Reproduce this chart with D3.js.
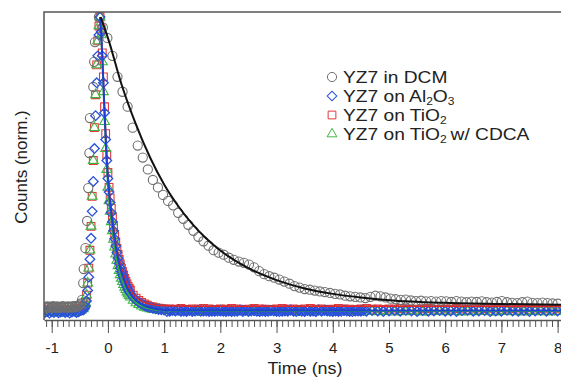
<!DOCTYPE html>
<html>
<head>
<meta charset="utf-8">
<script src="https://cdn.jsdelivr.net/npm/d3@7"></script>
<style>
  body { margin: 0; background: #fff; }
  svg { display: block; font-family: "Liberation Sans", Arial, sans-serif; }
</style>
</head>
<body>
<script>
// ********************************** //
// ** Data
// ********************************** //
const dcmTime = [
  -1.12, -1.1, -1.08, -1.06, -1.04, -1.02, -1.0, -0.98, -0.96, -0.94, -0.92, -0.9, -0.88, -0.86, -0.84, -0.82,
  -0.8, -0.78, -0.76, -0.74, -0.72, -0.7, -0.68, -0.66, -0.64, -0.62, -0.6, -0.58, -0.56, -0.54, -0.52, -0.5, -0.48,
  -0.46, -0.44, -0.43, -0.4, -0.37, -0.35, -0.33, -0.32, -0.26, -0.245, -0.23, -0.16, -0.09,
  -0.01, 0.08, 0.17, 0.26, 0.35, 0.44, 0.53, 0.62, 0.71, 0.8, 0.89, 0.98, 1.07, 1.16, 1.25, 1.34, 1.43, 1.52, 1.61, 1.7,
  1.79, 1.88, 1.97, 2.06, 2.15, 2.24, 2.33, 2.42, 2.51, 2.6, 2.69, 2.78, 2.87, 2.96, 3.05, 3.14, 3.23, 3.32, 3.41, 3.5,
  3.59, 3.68, 3.77, 3.86, 3.95, 4.04, 4.13, 4.22, 4.31, 4.4, 4.49, 4.58, 4.67, 4.76, 4.85, 4.94, 5.03, 5.12, 5.21, 5.3,
  5.39, 5.48, 5.57, 5.66, 5.75, 5.84, 5.93, 6.02, 6.11, 6.2, 6.29, 6.38, 6.47, 6.56, 6.65, 6.74, 6.83, 6.92, 7.01, 7.1,
  7.19, 7.28, 7.37, 7.46, 7.55, 7.64, 7.73, 7.82, 7.91, 8.0
];
const dcmCounts = [
  0.03, 0.028, 0.032, 0.029, 0.031, 0.027, 0.03, 0.033, 0.029, 0.031, 0.028, 0.032, 0.03, 0.027, 0.031, 0.029,
  0.033, 0.03, 0.028, 0.031, 0.029, 0.032, 0.03, 0.028, 0.031, 0.033, 0.029, 0.032, 0.034, 0.031, 0.035, 0.038, 0.042,
  0.054, 0.11, 0.157, 0.227, 0.318, 0.428, 0.545, 0.662, 0.766, 0.85, 0.916, 1.0, 0.965,
  0.93, 0.87, 0.8, 0.75, 0.7, 0.63, 0.57, 0.53, 0.49, 0.455, 0.43, 0.405, 0.385, 0.37, 0.345, 0.325, 0.305, 0.285, 0.265, 0.25,
  0.235, 0.22, 0.212, 0.205, 0.195, 0.188, 0.182, 0.178, 0.172, 0.163, 0.15, 0.14, 0.133, 0.128, 0.122, 0.115, 0.108, 0.1, 0.095, 0.09,
  0.088, 0.085, 0.082, 0.08, 0.077, 0.074, 0.072, 0.068, 0.066, 0.064, 0.062, 0.06, 0.064, 0.068, 0.066, 0.062, 0.058, 0.056, 0.054, 0.055,
  0.052, 0.05, 0.051, 0.049, 0.05, 0.048, 0.05, 0.049, 0.047, 0.05, 0.048, 0.046, 0.048, 0.047, 0.049, 0.046, 0.045, 0.047, 0.05, 0.046,
  0.044, 0.043, 0.046, 0.048, 0.044, 0.043, 0.045, 0.043, 0.042, 0.041
];

// time bins for the TiO2 films (up to 1 ns they are shared with Al2O3)
const fastTime = [
  -1.12, -1.08, -1.04, -1.0, -0.96, -0.92, -0.88, -0.84, -0.8, -0.76, -0.72, -0.68, -0.64, -0.6, -0.56, -0.52, -0.48, -0.44,
  -0.42, -0.4, -0.38, -0.36, -0.34, -0.32, -0.3, -0.28, -0.26, -0.24, -0.22, -0.2, -0.18, -0.16, -0.14,
  -0.12, -0.1, -0.08, -0.06, -0.04, -0.02, 0.0, 0.02, 0.04, 0.06, 0.08, 0.1, 0.12, 0.14, 0.16, 0.18, 0.2, 0.22, 0.24,
  0.26, 0.28, 0.3, 0.32, 0.34, 0.36, 0.38, 0.4,
  0.45, 0.5, 0.55, 0.6, 0.65, 0.7, 0.75, 0.8, 0.85, 0.9, 0.95, 1.0,
  1.1, 1.2, 1.3, 1.4, 1.5, 1.6, 1.7, 1.8, 1.9, 2.0, 2.1, 2.2, 2.3, 2.4, 2.5, 2.6, 2.7, 2.8, 2.9, 3.0,
  3.1, 3.2, 3.3, 3.4, 3.5, 3.6, 3.7, 3.8, 3.9, 4.0, 4.1, 4.2, 4.3, 4.4, 4.5, 4.6, 4.7, 4.8, 4.9, 5.0,
  5.1, 5.2, 5.3, 5.4, 5.5, 5.6, 5.7, 5.8, 5.9, 6.0, 6.1, 6.2, 6.3, 6.4, 6.5, 6.6, 6.7, 6.8, 6.9, 7.0,
  7.1, 7.2, 7.3, 7.4, 7.5, 7.6, 7.7, 7.8, 7.9, 8.0
];
// Al2O3 tail bins after 1 ns (denser, the blue band)
const al2o3TailTime = [
  1.05, 1.1, 1.15, 1.2, 1.25, 1.3, 1.35, 1.4, 1.45, 1.5, 1.55, 1.6, 1.65, 1.7, 1.75, 1.8, 1.85, 1.9, 1.95, 2.0,
  2.05, 2.1, 2.15, 2.2, 2.25, 2.3, 2.35, 2.4, 2.45, 2.5, 2.55, 2.6, 2.65, 2.7, 2.75, 2.8, 2.85, 2.9, 2.95, 3.0,
  3.05, 3.1, 3.15, 3.2, 3.25, 3.3, 3.35, 3.4, 3.45, 3.5, 3.55, 3.6, 3.65, 3.7, 3.75, 3.8, 3.85, 3.9, 3.95, 4.0,
  4.05, 4.1, 4.15, 4.2, 4.25, 4.3, 4.35, 4.4, 4.45, 4.5, 4.55, 4.6, 4.65, 4.7, 4.75, 4.8, 4.85, 4.9, 4.95, 5.0,
  5.05, 5.1, 5.15, 5.2, 5.25, 5.3, 5.35, 5.4, 5.45, 5.5, 5.55, 5.6, 5.65, 5.7, 5.75, 5.8, 5.85, 5.9, 5.95, 6.0,
  6.05, 6.1, 6.15, 6.2, 6.25, 6.3, 6.35, 6.4, 6.45, 6.5, 6.55, 6.6, 6.65, 6.7, 6.75, 6.8, 6.85, 6.9, 6.95, 7.0,
  7.05, 7.1, 7.15, 7.2, 7.25, 7.3, 7.35, 7.4, 7.45, 7.5, 7.55, 7.6, 7.65, 7.7, 7.75, 7.8, 7.85, 7.9, 7.95, 8.0,
  8.05
];
const al2o3Counts = [
  0.012, 0.015, 0.01, 0.014, 0.012, 0.016, 0.011, 0.013, 0.015, 0.012, 0.014, 0.01, 0.013, 0.016, 0.012, 0.014, 0.018, 0.02,
  0.024, 0.032, 0.05, 0.085, 0.13, 0.19, 0.26, 0.35, 0.45, 0.56, 0.67, 0.78, 0.87, 0.94, 1.0,
  0.95, 0.87, 0.78, 0.68, 0.59, 0.52, 0.46, 0.415, 0.38, 0.345, 0.315, 0.285, 0.258, 0.234, 0.212, 0.193, 0.176, 0.161, 0.148,
  0.136, 0.125, 0.114, 0.104, 0.096, 0.088, 0.081, 0.075,
  0.062, 0.053, 0.046, 0.04, 0.035, 0.031, 0.028, 0.026, 0.024, 0.022, 0.021, 0.02
];
const al2o3TailCounts = [
  0.019, 0.018, 0.017, 0.018, 0.016, 0.019, 0.017, 0.018, 0.016, 0.017, 0.018, 0.015, 0.017, 0.019, 0.016, 0.018, 0.017, 0.015, 0.018, 0.017,
  0.016, 0.019, 0.017, 0.018, 0.015, 0.017, 0.016, 0.018, 0.019, 0.017, 0.015, 0.018, 0.016, 0.017, 0.019, 0.016, 0.018, 0.017, 0.015, 0.017,
  0.018, 0.016, 0.019, 0.017, 0.015, 0.018, 0.016, 0.017, 0.018, 0.016, 0.017, 0.015, 0.018, 0.019, 0.016, 0.017, 0.018, 0.015, 0.017, 0.016,
  0.019, 0.017, 0.016, 0.018, 0.015, 0.017, 0.018, 0.016, 0.019, 0.017, 0.015, 0.016, 0.018, 0.017, 0.019, 0.016, 0.017, 0.015, 0.018, 0.016,
  0.017, 0.019, 0.016, 0.018, 0.017, 0.015, 0.016, 0.018, 0.017, 0.019, 0.016, 0.015, 0.017, 0.018, 0.016, 0.017, 0.019, 0.015, 0.018, 0.016,
  0.017, 0.018, 0.016, 0.015, 0.017, 0.019, 0.016, 0.018, 0.017, 0.016, 0.015, 0.018, 0.017, 0.016, 0.019, 0.017, 0.015, 0.018, 0.016, 0.017,
  0.018, 0.016, 0.017, 0.015, 0.019, 0.016, 0.018, 0.017, 0.016, 0.015, 0.017, 0.018, 0.016, 0.019, 0.017, 0.016, 0.015, 0.018, 0.017, 0.016,
  0.018
];
const tio2Counts = [
  0.02, 0.023, 0.019, 0.022, 0.02, 0.024, 0.019, 0.021, 0.023, 0.02, 0.022, 0.019, 0.021, 0.024, 0.02, 0.022, 0.026, 0.03,
  0.035, 0.045, 0.07, 0.11, 0.16, 0.22, 0.3, 0.4, 0.52, 0.63, 0.74, 0.84, 0.92, 0.97, 1.0,
  0.96, 0.88, 0.8, 0.7, 0.61, 0.54, 0.48, 0.43, 0.395, 0.36, 0.33, 0.3, 0.272, 0.248, 0.226, 0.206, 0.189, 0.174, 0.16,
  0.148, 0.137, 0.126, 0.116, 0.107, 0.099, 0.092, 0.086,
  0.07, 0.06, 0.052, 0.045, 0.04, 0.036, 0.032, 0.03, 0.028, 0.026, 0.025, 0.024,
  0.024, 0.023, 0.025, 0.022, 0.024, 0.023, 0.025, 0.024, 0.022, 0.024, 0.023, 0.025, 0.024, 0.022, 0.023, 0.025, 0.024, 0.023, 0.022, 0.024,
  0.025, 0.023, 0.024, 0.022, 0.024, 0.025, 0.023, 0.024, 0.022, 0.023, 0.025, 0.024, 0.023, 0.022, 0.024, 0.025, 0.023, 0.024, 0.022, 0.024,
  0.023, 0.025, 0.024, 0.022, 0.023, 0.024, 0.025, 0.023, 0.022, 0.024, 0.023, 0.025, 0.024, 0.022, 0.024, 0.023, 0.025, 0.024, 0.023, 0.022,
  0.024, 0.025, 0.023, 0.024, 0.022, 0.023, 0.025, 0.024, 0.023, 0.024
];
const cdcaCounts = [
  0.015, 0.012, 0.016, 0.013, 0.011, 0.015, 0.014, 0.012, 0.016, 0.013, 0.011, 0.015, 0.014, 0.012, 0.016, 0.015, 0.02, 0.024,
  0.035, 0.045, 0.07, 0.11, 0.16, 0.22, 0.3, 0.4, 0.52, 0.63, 0.74, 0.84, 0.92, 0.97, 1.0,
  0.94, 0.85, 0.75, 0.65, 0.56, 0.49, 0.43, 0.385, 0.35, 0.315, 0.285, 0.256, 0.23, 0.207, 0.186, 0.168, 0.152, 0.138, 0.126,
  0.115, 0.105, 0.096, 0.088, 0.08, 0.074, 0.068, 0.063,
  0.052, 0.044, 0.038, 0.033, 0.029, 0.026, 0.024, 0.022, 0.021, 0.02, 0.019, 0.018,
  0.016, 0.015, 0.014, 0.016, 0.015, 0.013, 0.015, 0.016, 0.014, 0.015, 0.013, 0.016, 0.015, 0.014, 0.016, 0.015, 0.013, 0.014, 0.016, 0.015,
  0.014, 0.016, 0.015, 0.013, 0.015, 0.014, 0.016, 0.015, 0.014, 0.013, 0.015, 0.016, 0.014, 0.015, 0.013, 0.016, 0.015, 0.014, 0.015, 0.016,
  0.013, 0.015, 0.014, 0.016, 0.015, 0.013, 0.014, 0.016, 0.015, 0.014, 0.016, 0.015, 0.013, 0.015, 0.014, 0.016, 0.015, 0.014, 0.013, 0.015,
  0.016, 0.014, 0.015, 0.013, 0.015, 0.016, 0.014, 0.015, 0.013, 0.015
];

// fitted decays [time (ns), counts]
const dcmFit = [
  [-0.13, 1.0], [0, 0.93], [0.25, 0.77], [0.5, 0.64], [0.75, 0.53], [1, 0.44], [1.25, 0.368], [1.5, 0.308],
  [1.75, 0.259], [2, 0.219], [2.5, 0.16], [3, 0.12], [3.5, 0.092], [4, 0.074], [4.5, 0.062], [5, 0.053],
  [6, 0.044], [7, 0.04], [8.06, 0.038]
];
const al2o3Fit = [
  [-0.14, 1.0], [-0.1, 0.87], [-0.06, 0.68], [-0.02, 0.52], [0.02, 0.415], [0.06, 0.345], [0.1, 0.285],
  [0.16, 0.212], [0.22, 0.161], [0.3, 0.114], [0.4, 0.075], [0.5, 0.053], [0.65, 0.035], [0.8, 0.026],
  [1, 0.02], [1.5, 0.018], [8.06, 0.018]
];
const tio2Fit = [
  [-0.14, 1.0], [-0.1, 0.88], [-0.06, 0.7], [-0.02, 0.54], [0.02, 0.43], [0.06, 0.36], [0.1, 0.3],
  [0.16, 0.226], [0.22, 0.174], [0.3, 0.126], [0.4, 0.086], [0.5, 0.063], [0.65, 0.045], [0.8, 0.038],
  [1, 0.034], [1.5, 0.033], [8.06, 0.033]
];
const cdcaFit = [
  [-0.14, 1.0], [-0.1, 0.85], [-0.06, 0.65], [-0.02, 0.49], [0.02, 0.385], [0.06, 0.315], [0.1, 0.256],
  [0.16, 0.186], [0.22, 0.138], [0.3, 0.096], [0.4, 0.063], [0.5, 0.044], [0.65, 0.029], [0.8, 0.022],
  [1, 0.018], [1.5, 0.016], [8.06, 0.016]
];

const xTicks = [-1, 0, 1, 2, 3, 4, 5, 6, 7, 8];
const legendItems = [
  { key: "dcm", label: ["YZ7 in DCM"] },
  { key: "al2o3", label: ["YZ7 on Al", "2", "O", "3"] },
  { key: "tio2", label: ["YZ7 on TiO", "2"] },
  { key: "cdca", label: ["YZ7 on TiO", "2", "\u2009w/ CDCA"] }
];

// ********************************** //
// ** Styles
// ********************************** //
const styles = {
  dcm: { color: "#6f6f6f", symbol: d3.symbolCircle, size: 66, rotate: 0 },
  al2o3: { color: "#2a50dc", symbol: d3.symbolSquare, size: 46, rotate: 45 },
  tio2: { color: "#e0393b", symbol: d3.symbolSquare, size: 60, rotate: 0 },
  cdca: { color: "#3fb544", symbol: d3.symbolTriangle, size: 42, rotate: 0 }
};
// the reference figure is stretched sideways, so its lettering is too
const textStretch = 1.2;

// ********************************** //
// ** Chart
// ********************************** //
const width = 561;
const height = 380;
const plot = { left: 44, right: 561, top: 12, bottom: 320 };

const svg = d3.select("body").append("svg")
  .attr("width", width)
  .attr("height", height);

const x = d3.scaleLinear().domain([-1.137, 8.06]).range([plot.left, plot.right]);
const y = d3.scaleLinear().domain([0, 1]).range([316, 17]);

svg.append("clipPath").attr("id", "plot-clip")
  .append("rect")
  .attr("x", plot.left).attr("y", plot.top)
  .attr("width", plot.right - plot.left).attr("height", plot.bottom - plot.top);

const markerLayer = svg.append("g").attr("clip-path", "url(#plot-clip)");

const drawMarkers = (key, times, counts, sw) => {
  const st = styles[key];
  const path = d3.symbol().type(st.symbol).size(st.size)();
  markerLayer.append("g")
    .selectAll("path")
    .data(d3.zip(times, counts))
    .join("path")
    .attr("d", path)
    .attr("transform", d => `translate(${x(d[0])},${y(d[1])}) rotate(${st.rotate})`)
    .attr("fill", "none")
    .attr("stroke", st.color)
    .attr("stroke-width", sw);
};

drawMarkers("tio2", fastTime, tio2Counts, 1.1);
drawMarkers("cdca", fastTime, cdcaCounts, 1.1);
drawMarkers("al2o3", fastTime.concat(al2o3TailTime), al2o3Counts.concat(al2o3TailCounts), 1.3);
drawMarkers("dcm", dcmTime, dcmCounts, 1.1);

const line = d3.line().x(d => x(d[0])).y(d => y(d[1])).curve(d3.curveMonotoneX);
const drawFit = (data, color, w) => {
  markerLayer.append("path")
    .datum(data)
    .attr("d", line)
    .attr("fill", "none")
    .attr("stroke", color)
    .attr("stroke-width", w);
};
drawFit(tio2Fit, "#e3262a", 1.5);
drawFit(cdcaFit, "#2fae3a", 1.5);
drawFit(al2o3Fit, "#1f3fd0", 2);
drawFit(dcmFit, "#111", 2);

// frame: left and top edges
svg.append("path")
  .attr("d", `M${plot.left},${plot.bottom}V${plot.top}H${plot.right}`)
  .attr("fill", "none")
  .attr("stroke", "#555")
  .attr("stroke-width", 1.5);

// x axis: minor ticks every 0.1 ns, majors every 1 ns
const minorTicks = d3.range(-11, 81).map(i => i / 10).filter(v => x(v) >= plot.left);
svg.append("g")
  .attr("transform", `translate(0,${plot.bottom})`)
  .call(d3.axisBottom(x).tickValues(minorTicks).tickSize(7).tickSizeOuter(0).tickFormat(""))
  .call(g => g.select(".domain").attr("stroke", "#555").attr("stroke-width", 1.5))
  .call(g => g.selectAll(".tick line").attr("stroke", "#555"));

svg.append("g")
  .attr("transform", `translate(0,${plot.bottom})`)
  .call(d3.axisBottom(x).tickValues(xTicks).tickSize(13).tickPadding(9).tickSizeOuter(0))
  .call(g => g.select(".domain").remove())
  .call(g => g.selectAll(".tick line").attr("stroke", "#555"))
  .call(g => g.selectAll(".tick text").attr("fill", "#222").attr("font-size", 15)
    .text(d => (d < 0 ? "-" : "") + Math.abs(d)));

// axis titles
svg.append("text")
  .attr("transform", `translate(305,374) scale(1.12,1)`)
  .attr("text-anchor", "middle")
  .attr("font-size", 16)
  .attr("fill", "#222")
  .text("Time (ns)");

svg.append("text")
  .attr("transform", "translate(27,167) rotate(-90)")
  .attr("text-anchor", "middle")
  .attr("font-size", 17)
  .attr("fill", "#222")
  .text("Counts (norm.)");

// legend
const legend = svg.append("g").attr("transform", "translate(332,77)");
legendItems.forEach((item, i) => {
  const st = styles[item.key];
  const row = legend.append("g").attr("transform", `translate(0,${i * 19})`);
  row.append("path")
    .attr("d", d3.symbol().type(st.symbol).size(st.size)())
    .attr("transform", `rotate(${st.rotate})`)
    .attr("fill", "none")
    .attr("stroke", st.color)
    .attr("stroke-width", 1);
  const txt = row.append("text")
    .attr("transform", `translate(11,5.5) scale(${textStretch},1)`)
    .attr("font-size", 16)
    .attr("fill", "#222");
  item.label.forEach((part, j) => {
    const isSub = j % 2 === 1;
    txt.append("tspan")
      .attr("font-size", isSub ? 10 : 16)
      .attr("dy", isSub ? 3 : (j > 0 ? -3 : 0))
      .text(part);
  });
});
</script>
</body>
</html>
